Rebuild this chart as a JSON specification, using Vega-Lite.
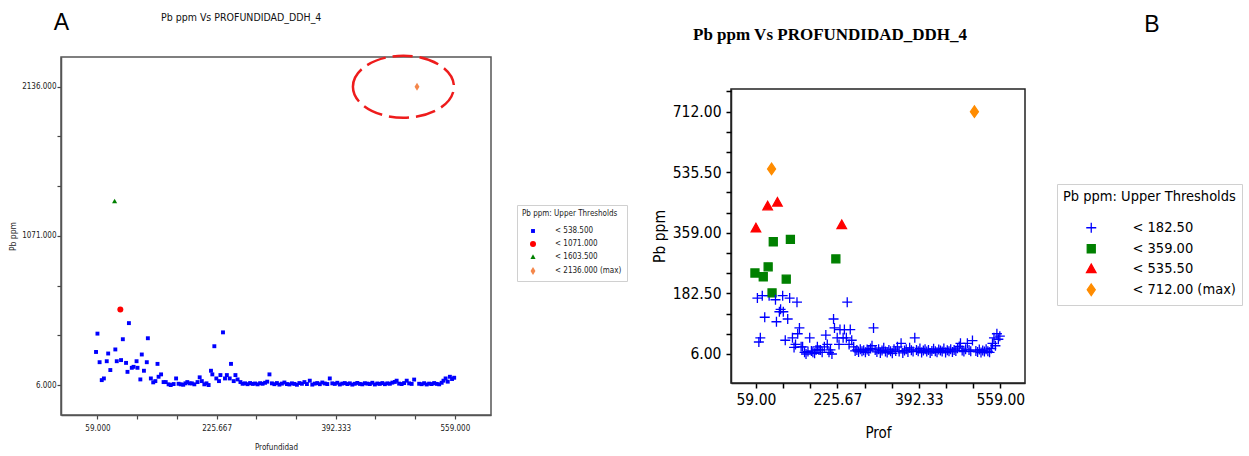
{
  "$schema": "https://vega.github.io/schema/vega-lite/v6.json",
  "padding": {"left": 7, "top": 10, "right": 4, "bottom": 4},
  "background": "white",
  "config": {
    "font": "DejaVu Sans Condensed",
    "axis": {"grid": false, "labelFont": "DejaVu Sans Condensed", "titleFont": "DejaVu Sans Condensed", "titleFontWeight": "normal", "labelOverlap": false},
    "legend": {"labelFont": "DejaVu Sans Condensed", "titleFont": "DejaVu Sans Condensed", "titleFontWeight": "normal"}
  },
  "datasets": {
    "ddh": [
      {"Prof":57,"Pb":242,"PbB":242,"cA":"< 538.500","cB":"< 359.00"},
      {"Prof":59,"Pb":373,"PbB":373,"cA":"< 538.500","cB":"< 535.50"},
      {"Prof":62,"Pb":169,"PbB":169,"cA":"< 538.500","cB":"< 182.50"},
      {"Prof":65,"Pb":41,"PbB":41,"cA":"< 538.500","cB":"< 182.50"},
      {"Prof":68,"Pb":53,"PbB":53,"cA":"< 538.500","cB":"< 182.50"},
      {"Prof":72,"Pb":176,"PbB":176,"cA":"< 538.500","cB":"< 182.50"},
      {"Prof":74,"Pb":231,"PbB":231,"cA":"< 538.500","cB":"< 359.00"},
      {"Prof":77,"Pb":113,"PbB":113,"cA":"< 538.500","cB":"< 182.50"},
      {"Prof":83,"Pb":1317,"PbB":437,"cA":"< 1603.500","cB":"< 535.50"},
      {"Prof":84,"Pb":260,"PbB":260,"cA":"< 538.500","cB":"< 359.00"},
      {"Prof":86,"Pb":176,"PbB":176,"cA":"< 538.500","cB":"< 182.50"},
      {"Prof":91,"Pb":545,"PbB":545,"cA":"< 1071.000","cB":"< 712.00 (max)"},
      {"Prof":92,"Pb":184,"PbB":184,"cA":"< 538.500","cB":"< 359.00"},
      {"Prof":94.5,"Pb":333,"PbB":333,"cA":"< 538.500","cB":"< 359.00"},
      {"Prof":99,"Pb":164,"PbB":164,"cA":"< 538.500","cB":"< 182.50"},
      {"Prof":101,"Pb":100,"PbB":100,"cA":"< 538.500","cB":"< 182.50"},
      {"Prof":103,"Pb":448,"PbB":448,"cA":"< 538.500","cB":"< 535.50"},
      {"Prof":107,"Pb":129,"PbB":129,"cA":"< 538.500","cB":"< 182.50"},
      {"Prof":109.5,"Pb":136,"PbB":136,"cA":"< 538.500","cB":"< 182.50"},
      {"Prof":113.7,"Pb":176,"PbB":176,"cA":"< 538.500","cB":"< 182.50"},
      {"Prof":115,"Pb":129,"PbB":129,"cA":"< 538.500","cB":"< 182.50"},
      {"Prof":119,"Pb":46,"PbB":46,"cA":"< 538.500","cB":"< 182.50"},
      {"Prof":121,"Pb":224,"PbB":224,"cA":"< 538.500","cB":"< 359.00"},
      {"Prof":124,"Pb":108,"PbB":108,"cA":"< 538.500","cB":"< 182.50"},
      {"Prof":128,"Pb":169,"PbB":169,"cA":"< 538.500","cB":"< 182.50"},
      {"Prof":129.5,"Pb":340,"PbB":340,"cA":"< 538.500","cB":"< 359.00"},
      {"Prof":133.7,"Pb":53,"PbB":53,"cA":"< 538.500","cB":"< 182.50"},
      {"Prof":137,"Pb":25,"PbB":25,"cA":"< 538.500","cB":"< 182.50"},
      {"Prof":140,"Pb":34,"PbB":34,"cA":"< 538.500","cB":"< 182.50"},
      {"Prof":143,"Pb":157,"PbB":157,"cA":"< 538.500","cB":"< 182.50"},
      {"Prof":144.5,"Pb":65,"PbB":65,"cA":"< 538.500","cB":"< 182.50"},
      {"Prof":148,"Pb":82,"PbB":82,"cA":"< 538.500","cB":"< 182.50"},
      {"Prof":151.5,"Pb":27,"PbB":27,"cA":"< 538.500","cB":"< 182.50"},
      {"Prof":154.5,"Pb":27,"PbB":27,"cA":"< 538.500","cB":"< 182.50"},
      {"Prof":158.5,"Pb":11,"PbB":11,"cA":"< 538.500","cB":"< 182.50"},
      {"Prof":161.5,"Pb":6,"PbB":6,"cA":"< 538.500","cB":"< 182.50"},
      {"Prof":165.5,"Pb":13,"PbB":13,"cA":"< 538.500","cB":"< 182.50"},
      {"Prof":169,"Pb":53,"PbB":53,"cA":"< 538.500","cB":"< 182.50"},
      {"Prof":172.5,"Pb":15,"PbB":15,"cA":"< 538.500","cB":"< 182.50"},
      {"Prof":175.5,"Pb":11,"PbB":11,"cA":"< 538.500","cB":"< 182.50"},
      {"Prof":179,"Pb":8,"PbB":8,"cA":"< 538.500","cB":"< 182.50"},
      {"Prof":182,"Pb":18,"PbB":18,"cA":"< 538.500","cB":"< 182.50"},
      {"Prof":184.7,"Pb":27,"PbB":27,"cA":"< 538.500","cB":"< 182.50"},
      {"Prof":188,"Pb":18,"PbB":18,"cA":"< 538.500","cB":"< 182.50"},
      {"Prof":191,"Pb":18,"PbB":18,"cA":"< 538.500","cB":"< 182.50"},
      {"Prof":194.5,"Pb":11,"PbB":11,"cA":"< 538.500","cB":"< 182.50"},
      {"Prof":199,"Pb":27,"PbB":27,"cA":"< 538.500","cB":"< 182.50"},
      {"Prof":202,"Pb":61,"PbB":61,"cA":"< 538.500","cB":"< 182.50"},
      {"Prof":205,"Pb":34,"PbB":34,"cA":"< 538.500","cB":"< 182.50"},
      {"Prof":208.5,"Pb":11,"PbB":11,"cA":"< 538.500","cB":"< 182.50"},
      {"Prof":211.5,"Pb":18,"PbB":18,"cA":"< 538.500","cB":"< 182.50"},
      {"Prof":214.5,"Pb":6,"PbB":6,"cA":"< 538.500","cB":"< 182.50"},
      {"Prof":217.8,"Pb":108,"PbB":108,"cA":"< 538.500","cB":"< 182.50"},
      {"Prof":219.7,"Pb":82,"PbB":82,"cA":"< 538.500","cB":"< 182.50"},
      {"Prof":222.5,"Pb":283,"PbB":283,"cA":"< 538.500","cB":"< 359.00"},
      {"Prof":225.3,"Pb":53,"PbB":53,"cA":"< 538.500","cB":"< 182.50"},
      {"Prof":229,"Pb":34,"PbB":34,"cA":"< 538.500","cB":"< 182.50"},
      {"Prof":231,"Pb":77,"PbB":77,"cA":"< 538.500","cB":"< 182.50"},
      {"Prof":234.6,"Pb":382,"PbB":382,"cA":"< 538.500","cB":"< 535.50"},
      {"Prof":237.4,"Pb":53,"PbB":53,"cA":"< 538.500","cB":"< 182.50"},
      {"Prof":240,"Pb":77,"PbB":77,"cA":"< 538.500","cB":"< 182.50"},
      {"Prof":244,"Pb":53,"PbB":53,"cA":"< 538.500","cB":"< 182.50"},
      {"Prof":245.8,"Pb":157,"PbB":157,"cA":"< 538.500","cB":"< 182.50"},
      {"Prof":249.6,"Pb":34,"PbB":34,"cA":"< 538.500","cB":"< 182.50"},
      {"Prof":252,"Pb":77,"PbB":77,"cA":"< 538.500","cB":"< 182.50"},
      {"Prof":255,"Pb":46,"PbB":46,"cA":"< 538.500","cB":"< 182.50"},
      {"Prof":259,"Pb":27,"PbB":27,"cA":"< 538.500","cB":"< 182.50"},
      {"Prof":262,"Pb":15,"PbB":15,"cA":"< 538.500","cB":"< 182.50"},
      {"Prof":265.5,"Pb":18,"PbB":18,"cA":"< 538.500","cB":"< 182.50"},
      {"Prof":269,"Pb":12,"PbB":12,"cA":"< 538.500","cB":"< 182.50"},
      {"Prof":272.5,"Pb":20,"PbB":20,"cA":"< 538.500","cB":"< 182.50"},
      {"Prof":276,"Pb":14,"PbB":14,"cA":"< 538.500","cB":"< 182.50"},
      {"Prof":279.5,"Pb":17,"PbB":17,"cA":"< 538.500","cB":"< 182.50"},
      {"Prof":283,"Pb":11,"PbB":11,"cA":"< 538.500","cB":"< 182.50"},
      {"Prof":286.5,"Pb":19,"PbB":19,"cA":"< 538.500","cB":"< 182.50"},
      {"Prof":290,"Pb":15,"PbB":15,"cA":"< 538.500","cB":"< 182.50"},
      {"Prof":293.5,"Pb":22,"PbB":22,"cA":"< 538.500","cB":"< 182.50"},
      {"Prof":296.5,"Pb":30,"PbB":30,"cA":"< 538.500","cB":"< 182.50"},
      {"Prof":299.6,"Pb":82,"PbB":82,"cA":"< 538.500","cB":"< 182.50"},
      {"Prof":303,"Pb":18,"PbB":18,"cA":"< 538.500","cB":"< 182.50"},
      {"Prof":306.5,"Pb":12,"PbB":12,"cA":"< 538.500","cB":"< 182.50"},
      {"Prof":310,"Pb":20,"PbB":20,"cA":"< 538.500","cB":"< 182.50"},
      {"Prof":313.5,"Pb":9,"PbB":9,"cA":"< 538.500","cB":"< 182.50"},
      {"Prof":317,"Pb":16,"PbB":16,"cA":"< 538.500","cB":"< 182.50"},
      {"Prof":320.5,"Pb":24,"PbB":24,"cA":"< 538.500","cB":"< 182.50"},
      {"Prof":324,"Pb":13,"PbB":13,"cA":"< 538.500","cB":"< 182.50"},
      {"Prof":327.5,"Pb":10,"PbB":10,"cA":"< 538.500","cB":"< 182.50"},
      {"Prof":331,"Pb":18,"PbB":18,"cA":"< 538.500","cB":"< 182.50"},
      {"Prof":334.5,"Pb":14,"PbB":14,"cA":"< 538.500","cB":"< 182.50"},
      {"Prof":338,"Pb":8,"PbB":8,"cA":"< 538.500","cB":"< 182.50"},
      {"Prof":341.5,"Pb":20,"PbB":20,"cA":"< 538.500","cB":"< 182.50"},
      {"Prof":345,"Pb":15,"PbB":15,"cA":"< 538.500","cB":"< 182.50"},
      {"Prof":348.5,"Pb":27,"PbB":27,"cA":"< 538.500","cB":"< 182.50"},
      {"Prof":352,"Pb":13,"PbB":13,"cA":"< 538.500","cB":"< 182.50"},
      {"Prof":356,"Pb":37,"PbB":37,"cA":"< 538.500","cB":"< 182.50"},
      {"Prof":359.5,"Pb":9,"PbB":9,"cA":"< 538.500","cB":"< 182.50"},
      {"Prof":363,"Pb":16,"PbB":16,"cA":"< 538.500","cB":"< 182.50"},
      {"Prof":366.5,"Pb":20,"PbB":20,"cA":"< 538.500","cB":"< 182.50"},
      {"Prof":370,"Pb":12,"PbB":12,"cA":"< 538.500","cB":"< 182.50"},
      {"Prof":373.5,"Pb":24,"PbB":24,"cA":"< 538.500","cB":"< 182.50"},
      {"Prof":377,"Pb":17,"PbB":17,"cA":"< 538.500","cB":"< 182.50"},
      {"Prof":380.5,"Pb":13,"PbB":13,"cA":"< 538.500","cB":"< 182.50"},
      {"Prof":384,"Pb":53,"PbB":53,"cA":"< 538.500","cB":"< 182.50"},
      {"Prof":387.5,"Pb":18,"PbB":18,"cA":"< 538.500","cB":"< 182.50"},
      {"Prof":391,"Pb":14,"PbB":14,"cA":"< 538.500","cB":"< 182.50"},
      {"Prof":394.5,"Pb":22,"PbB":22,"cA":"< 538.500","cB":"< 182.50"},
      {"Prof":398,"Pb":10,"PbB":10,"cA":"< 538.500","cB":"< 182.50"},
      {"Prof":401.5,"Pb":16,"PbB":16,"cA":"< 538.500","cB":"< 182.50"},
      {"Prof":405,"Pb":20,"PbB":20,"cA":"< 538.500","cB":"< 182.50"},
      {"Prof":408.5,"Pb":13,"PbB":13,"cA":"< 538.500","cB":"< 182.50"},
      {"Prof":412,"Pb":18,"PbB":18,"cA":"< 538.500","cB":"< 182.50"},
      {"Prof":415.5,"Pb":9,"PbB":9,"cA":"< 538.500","cB":"< 182.50"},
      {"Prof":419,"Pb":15,"PbB":15,"cA":"< 538.500","cB":"< 182.50"},
      {"Prof":422.5,"Pb":21,"PbB":21,"cA":"< 538.500","cB":"< 182.50"},
      {"Prof":426,"Pb":14,"PbB":14,"cA":"< 538.500","cB":"< 182.50"},
      {"Prof":429.5,"Pb":11,"PbB":11,"cA":"< 538.500","cB":"< 182.50"},
      {"Prof":433,"Pb":19,"PbB":19,"cA":"< 538.500","cB":"< 182.50"},
      {"Prof":436.5,"Pb":16,"PbB":16,"cA":"< 538.500","cB":"< 182.50"},
      {"Prof":440,"Pb":13,"PbB":13,"cA":"< 538.500","cB":"< 182.50"},
      {"Prof":443.5,"Pb":22,"PbB":22,"cA":"< 538.500","cB":"< 182.50"},
      {"Prof":447,"Pb":10,"PbB":10,"cA":"< 538.500","cB":"< 182.50"},
      {"Prof":450.5,"Pb":17,"PbB":17,"cA":"< 538.500","cB":"< 182.50"},
      {"Prof":454,"Pb":14,"PbB":14,"cA":"< 538.500","cB":"< 182.50"},
      {"Prof":457.5,"Pb":20,"PbB":20,"cA":"< 538.500","cB":"< 182.50"},
      {"Prof":461,"Pb":12,"PbB":12,"cA":"< 538.500","cB":"< 182.50"},
      {"Prof":464.5,"Pb":18,"PbB":18,"cA":"< 538.500","cB":"< 182.50"},
      {"Prof":468,"Pb":15,"PbB":15,"cA":"< 538.500","cB":"< 182.50"},
      {"Prof":471.5,"Pb":23,"PbB":23,"cA":"< 538.500","cB":"< 182.50"},
      {"Prof":475,"Pb":28,"PbB":28,"cA":"< 538.500","cB":"< 182.50"},
      {"Prof":477.5,"Pb":37,"PbB":37,"cA":"< 538.500","cB":"< 182.50"},
      {"Prof":481,"Pb":16,"PbB":16,"cA":"< 538.500","cB":"< 182.50"},
      {"Prof":484.5,"Pb":13,"PbB":13,"cA":"< 538.500","cB":"< 182.50"},
      {"Prof":488,"Pb":20,"PbB":20,"cA":"< 538.500","cB":"< 182.50"},
      {"Prof":491.6,"Pb":37,"PbB":37,"cA":"< 538.500","cB":"< 182.50"},
      {"Prof":495,"Pb":18,"PbB":18,"cA":"< 538.500","cB":"< 182.50"},
      {"Prof":498.5,"Pb":14,"PbB":14,"cA":"< 538.500","cB":"< 182.50"},
      {"Prof":502,"Pb":45,"PbB":45,"cA":"< 538.500","cB":"< 182.50"},
      {"Prof":506,"Pb":2136,"PbB":712,"cA":"< 2136.000 (max)","cB":"< 712.00 (max)"},
      {"Prof":509,"Pb":15,"PbB":15,"cA":"< 538.500","cB":"< 182.50"},
      {"Prof":512.5,"Pb":12,"PbB":12,"cA":"< 538.500","cB":"< 182.50"},
      {"Prof":516,"Pb":19,"PbB":19,"cA":"< 538.500","cB":"< 182.50"},
      {"Prof":519.5,"Pb":10,"PbB":10,"cA":"< 538.500","cB":"< 182.50"},
      {"Prof":523,"Pb":16,"PbB":16,"cA":"< 538.500","cB":"< 182.50"},
      {"Prof":526.5,"Pb":13,"PbB":13,"cA":"< 538.500","cB":"< 182.50"},
      {"Prof":530,"Pb":20,"PbB":20,"cA":"< 538.500","cB":"< 182.50"},
      {"Prof":533.5,"Pb":14,"PbB":14,"cA":"< 538.500","cB":"< 182.50"},
      {"Prof":537,"Pb":11,"PbB":11,"cA":"< 538.500","cB":"< 182.50"},
      {"Prof":540.5,"Pb":22,"PbB":22,"cA":"< 538.500","cB":"< 182.50"},
      {"Prof":543,"Pb":37,"PbB":37,"cA":"< 538.500","cB":"< 182.50"},
      {"Prof":546,"Pb":53,"PbB":53,"cA":"< 538.500","cB":"< 182.50"},
      {"Prof":549,"Pb":30,"PbB":30,"cA":"< 538.500","cB":"< 182.50"},
      {"Prof":552,"Pb":65,"PbB":65,"cA":"< 538.500","cB":"< 182.50"},
      {"Prof":555,"Pb":49,"PbB":49,"cA":"< 538.500","cB":"< 182.50"},
      {"Prof":558,"Pb":58,"PbB":58,"cA":"< 538.500","cB":"< 182.50"}
    ]
  },
  "bounds": "flush",
  "center": true,
  "spacing": 240,
  "resolve": {
    "scale": {"color": "independent", "shape": "independent", "fill": "independent", "stroke": "independent", "x": "independent", "y": "independent"},
    "legend": {"color": "independent", "shape": "independent", "fill": "independent", "stroke": "independent"}
  },
  "hconcat": [
    {
      "width": 430,
      "height": 358,
      "view": {"stroke": "#555", "strokeWidth": 1.5},
      "title": {"text": "Pb ppm Vs PROFUNDIDAD_DDH_4", "frame": "group", "anchor": "start", "dx": 100, "offset": -12, "font": "DejaVu Sans Condensed", "fontSize": 10.5, "fontWeight": "normal", "color": "#111"},
      "layer": [
        {
          "data": {"name": "ddh"},
          "mark": {"type": "point", "filled": true, "opacity": 1, "size": 36},
          "encoding": {
            "x": {"field": "Prof", "type": "quantitative", "scale": {"domain": [8, 609.5], "nice": false, "zero": false},
              "axis": {"title": "Profundidad", "values": [59, 114.556, 170.111, 225.667, 281.222, 336.778, 392.333, 447.889, 503.444, 559],
                "labelExpr": "round((datum.value-59)/55.5556) % 3 == 0 ? format(datum.value, '.3f') : ''", "labelOverlap": false,
                "labelFontSize": 8, "labelColor": "#222", "titleFontSize": 8, "titleColor": "#222", "tickSize": 4, "tickColor": "#444", "tickWidth": 1.2, "domainColor": "#555", "domainWidth": 1.5, "labelPadding": 5, "titlePadding": 11}},
            "y": {"field": "Pb", "type": "quantitative", "scale": {"domain": [-208, 2348], "nice": false, "zero": false},
              "axis": {"title": "Pb ppm", "values": [6, 183.5, 361, 538.5, 716, 893.5, 1071, 1248.5, 1426, 1603.5, 1781, 1958.5, 2136, 2313.5],
                "labelExpr": "round((datum.value-6)/177.5) % 3 == 0 ? format(datum.value, '.3f') : ''", "labelOverlap": false,
                "labelFontSize": 8, "labelColor": "#222", "titleFontSize": 8.5, "titleColor": "#222", "tickSize": 4, "tickColor": "#444", "tickWidth": 1.2, "domainColor": "#555", "domainWidth": 1.5, "labelPadding": 1, "titlePadding": 4}},
            "color": {"field": "cA", "type": "nominal", "title": "Pb ppm: Upper Thresholds",
              "scale": {"domain": ["< 538.500", "< 1071.000", "< 1603.500", "< 2136.000 (max)"], "range": ["#0000ff", "#ff0000", "#008000", "#f4874b"]},
              "legend": {"orient": "none", "legendX": 456, "legendY": 148, "titleFontSize": 8, "labelFontSize": 8, "titleColor": "#222", "labelColor": "#222", "strokeColor": "#d0d0d0", "fillColor": "white", "padding": 5, "rowPadding": 5, "symbolOffset": 7, "labelOffset": 18, "titlePadding": 9, "symbolSize": 36}},
            "shape": {"field": "cA", "type": "nominal", "title": "Pb ppm: Upper Thresholds",
              "scale": {"domain": ["< 538.500", "< 1071.000", "< 1603.500", "< 2136.000 (max)"], "range": ["M-0.65,-0.65H0.65V0.65H-0.65Z", "circle", "M0,-0.9L0.85,0.65L-0.85,0.65Z", "M0,-1.35L0.82,0L0,1.35L-0.82,0Z"]},
              "legend": {"orient": "none", "legendX": 456, "legendY": 148, "titleFontSize": 8, "labelFontSize": 8, "titleColor": "#222", "labelColor": "#222", "strokeColor": "#d0d0d0", "fillColor": "white", "padding": 5, "rowPadding": 5, "symbolOffset": 7, "labelOffset": 18, "titlePadding": 9, "symbolSize": 36}}
          }
        },
        {
          "data": {"values": [{}]},
          "mark": {"type": "point", "shape": "M-1,0A1,0.614,0,1,1,1,0A1,0.614,0,1,1,-1,0Z", "size": 10201, "filled": false, "stroke": "#ee1c1c", "strokeWidth": 2.5, "strokeDash": [20, 7], "opacity": 1},
          "encoding": {"x": {"datum": 487}, "y": {"datum": 2136}}
        },
        {
          "data": {"values": [{"lbl": "A"}]},
          "mark": {"type": "text", "font": "Liberation Sans", "fontSize": 23, "align": "center", "baseline": "middle", "color": "#000"},
          "encoding": {"x": {"datum": 8.7}, "y": {"datum": 2594}, "text": {"field": "lbl"}}
        }
      ]
    },
    {
      "width": 294,
      "height": 294,
      "view": {"stroke": "#222", "strokeWidth": 1.5},
      "title": {"text": "Pb ppm Vs PROFUNDIDAD_DDH_4", "frame": "group", "anchor": "start", "dx": -38, "offset": -30, "font": "Liberation Serif", "fontSize": 17, "fontWeight": "bold", "color": "#000"},
      "resolve": {"axis": {"x": "independent", "y": "independent"}},
      "layer": [
        {
          "data": {"name": "ddh"},
          "mark": {"type": "point", "filled": false, "opacity": 1, "size": 100, "strokeWidth": 1.3},
          "encoding": {
            "x": {"field": "Prof", "type": "quantitative", "scale": {"domain": [8, 609.5], "nice": false, "zero": false},
              "axis": {"orient": "bottom", "title": "Prof", "values": [59, 225.667, 392.333, 559], "format": ".2f", "labelOverlap": false,
                "labelFontSize": 15.5, "labelColor": "#000", "titleFontSize": 15, "titleColor": "#000", "tickSize": 5, "tickColor": "#000", "tickWidth": 1.5, "domainColor": "#222", "domainWidth": 1.5, "labelPadding": 4, "titlePadding": 18}},
            "y": {"field": "PbB", "type": "quantitative", "scale": {"domain": [-78.5, 778], "nice": false, "zero": false},
              "axis": {"orient": "left", "title": "Pb ppm", "values": [6, 182.5, 359, 535.5, 712], "format": ".2f", "labelOverlap": false,
                "labelFontSize": 15.5, "labelColor": "#000", "titleFontSize": 15.5, "titleColor": "#000", "tickSize": 5, "tickColor": "#000", "tickWidth": 1.5, "domainColor": "#222", "domainWidth": 1.5, "labelPadding": 5, "titlePadding": 5}},
            "stroke": {"field": "cB", "type": "nominal", "title": "Pb ppm: Upper Thresholds",
              "scale": {"domain": ["< 182.50", "< 359.00", "< 535.50", "< 712.00 (max)"], "range": ["#0000ff", "#008000", "#ff0000", "#ff8c00"]},
              "legend": {"orient": "none", "legendX": 326, "legendY": 95, "titleFontSize": 14.5, "labelFontSize": 14.5, "titleColor": "#000", "labelColor": "#000", "strokeColor": "#d0d0d0", "fillColor": "white", "padding": 6, "rowPadding": 5, "symbolOffset": 21, "labelOffset": 34, "titlePadding": 16, "symbolSize": 100, "symbolStrokeWidth": 1.3}},
            "fill": {"field": "cB", "type": "nominal", "title": "Pb ppm: Upper Thresholds",
              "scale": {"domain": ["< 182.50", "< 359.00", "< 535.50", "< 712.00 (max)"], "range": ["transparent", "#008000", "#ff0000", "#ff8c00"]},
              "legend": {"orient": "none", "legendX": 326, "legendY": 95, "titleFontSize": 14.5, "labelFontSize": 14.5, "titleColor": "#000", "labelColor": "#000", "strokeColor": "#d0d0d0", "fillColor": "white", "padding": 6, "rowPadding": 5, "symbolOffset": 21, "labelOffset": 34, "titlePadding": 16, "symbolSize": 100, "symbolStrokeWidth": 1.3}},
            "shape": {"field": "cB", "type": "nominal", "title": "Pb ppm: Upper Thresholds",
              "scale": {"domain": ["< 182.50", "< 359.00", "< 535.50", "< 712.00 (max)"], "range": ["M-1,0L1,0M0,-1L0,1", "M-0.8,-0.8H0.8V0.8H-0.8Z", "M0,-0.95L0.95,0.75L-0.95,0.75Z", "M0,-1.15L0.8,0L0,1.15L-0.8,0Z"]},
              "legend": {"orient": "none", "legendX": 326, "legendY": 95, "titleFontSize": 14.5, "labelFontSize": 14.5, "titleColor": "#000", "labelColor": "#000", "strokeColor": "#d0d0d0", "fillColor": "white", "padding": 6, "rowPadding": 5, "symbolOffset": 21, "labelOffset": 34, "titlePadding": 16, "symbolSize": 100, "symbolStrokeWidth": 1.3}}
          }
        },
        {
          "data": {"values": []},
          "mark": {"type": "point"},
          "encoding": {
            "x": {"field": "Prof", "type": "quantitative",
              "axis": {"orient": "bottom", "title": null, "labels": false, "domain": false, "values": [114.556, 170.111, 281.222, 336.778, 447.889, 503.444], "tickSize": 5, "tickColor": "#000", "tickWidth": 1.5}},
            "y": {"field": "PbB", "type": "quantitative",
              "axis": {"orient": "left", "title": null, "labels": false, "domain": false, "values": [64.833, 123.667, 241.333, 300.167, 417.833, 476.667, 594.333, 653.167, 770.833], "tickSize": 5, "tickColor": "#000", "tickWidth": 1.5}}
          }
        },
        {
          "data": {"values": [{"lbl": "B"}]},
          "mark": {"type": "text", "font": "Liberation Sans", "fontSize": 23, "align": "center", "baseline": "middle", "color": "#000"},
          "encoding": {"x": {"datum": 869, "axis": null}, "y": {"datum": 964, "axis": null}, "text": {"field": "lbl"}}
        }
      ]
    }
  ]
}
